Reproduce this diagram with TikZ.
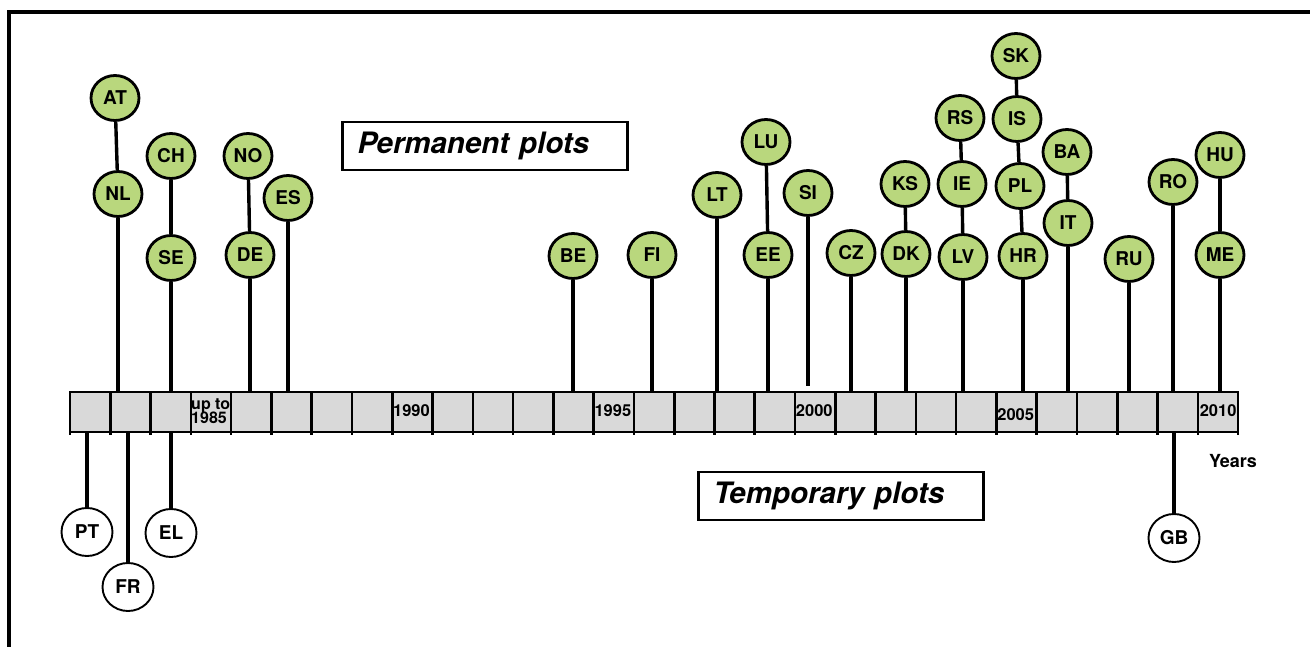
\documentclass[tikz,border=0pt]{standalone}
\usepackage{fontspec}
\setmainfont{TeX Gyre Heros}
\usetikzlibrary{shapes.geometric}
\definecolor{pgreen}{RGB}{185,215,125}
\definecolor{cellgray}{RGB}{217,217,217}
\tikzset{
  perm/.style={ellipse, draw, line width=2.8pt, fill=pgreen, minimum width=48pt, minimum height=45pt, inner sep=0pt, font=\fontsize{19}{20}\selectfont\bfseries},
  temp/.style={ellipse, draw, line width=1.9pt, fill=white, minimum width=51pt, minimum height=48pt, inner sep=0pt, font=\fontsize{19}{20}\selectfont\bfseries},
  stem/.style={line width=3.4pt},
  cell/.style={draw, line width=2.6pt, fill=cellgray, minimum width=40.28pt, minimum height=40pt, inner sep=0pt},
  yearlab/.style={anchor=west, inner sep=0pt, font=\fontsize{16.5}{18}\selectfont\bfseries, align=left},
  titlebox/.style={draw, line width=2.4pt, minimum height=48pt, inner xsep=15pt, text width=255pt, align=left, font=\fontsize{29.5}{31}\selectfont\bfseries\itshape},
}
\begin{document}
\begin{tikzpicture}[x=1pt,y=-1pt]
\useasboundingbox (0,0) rectangle (1310,647);
% frame
\draw[line width=3.5pt] (9,647) -- (9,12) -- (1310,12);
% timeline bar
\foreach \i in {0,...,28} {
  \node[cell] (c\i) at ({70+\i*40.28+20.14},412) {};
}
\foreach \i in {0,...,29} {
  \draw[line width=2.6pt] ({70+\i*40.28},392) -- ({70+\i*40.28},435);
}
\coordinate (bartop) at (0,392);
\coordinate (barbot) at (0,432);
% year labels
\node[yearlab, font=\fontsize{16}{17}\selectfont\bfseries] (y85) at ([xshift=1.5pt,yshift=1pt]c3.west) {up to\\[-2.5pt]1985};
\node[yearlab] (y90) at ([xshift=2pt,yshift=1pt]c8.west) {1990};
\node[yearlab] (y95) at ([xshift=2pt,yshift=1pt]c13.west) {1995};
\node[yearlab] (y00) at ([xshift=2pt,yshift=1.5pt]c18.west) {2000};
\node[yearlab] (y05) at ([xshift=2pt,yshift=-2.5pt]c23.west) {2005};
\node[yearlab] (y10) at ([xshift=3pt,yshift=1.5pt]c28.west) {2010};
\node[font=\fontsize{18}{19}\selectfont\bfseries, inner sep=0pt] (years) at (1233,461) {Years};
% title boxes
\node[titlebox] (pbox) at (485,146) {Permanent plots};
\node[titlebox] (tbox) at (841,496) {Temporary plots};
% permanent plots
\node[perm] (AT) at (115,98) {AT};
\node[perm] (NL) at (118,194) {NL};
\node[perm] (CH) at (171,156) {CH};
\node[perm] (SE) at (171,258) {SE};
\node[perm] (NO) at (248,156) {NO};
\node[perm] (DE) at (250,255) {DE};
\node[perm] (ES) at (288,198) {ES};
\node[perm] (BE) at (573,256) {BE};
\node[perm] (FI) at (652,255) {FI};
\node[perm] (LT) at (717,195) {LT};
\node[perm] (LU) at (766,142) {LU};
\node[perm] (EE) at (768,255) {EE};
\node[perm] (SI) at (808,193) {SI};
\node[perm] (CZ) at (851,253) {CZ};
\node[perm] (KS) at (905,184) {KS};
\node[perm] (DK) at (906,254) {DK};
\node[perm] (RS) at (960,118) {RS};
\node[perm] (IE) at (962,184) {IE};
\node[perm] (LV) at (963,257) {LV};
\node[perm] (SK) at (1016,56) {SK};
\node[perm] (IS) at (1017,119) {IS};
\node[perm] (PL) at (1020,186) {PL};
\node[perm] (HR) at (1023,256) {HR};
\node[perm] (BA) at (1067,152) {BA};
\node[perm] (IT) at (1068,223) {IT};
\node[perm] (RU) at (1129,259) {RU};
\node[perm] (RO) at (1173,182) {RO};
\node[perm] (HU) at (1220,155) {HU};
\node[perm] (ME) at (1220,255) {ME};
% temporary plots
\node[temp] (PT) at (87,532) {PT};
\node[temp] (FR) at (128,587) {FR};
\node[temp] (EL) at (171,533) {EL};
\node[temp] (GB) at (1174,538) {GB};
% links between stacked circles
\foreach \a/\b in {AT/NL, CH/SE, NO/DE, LU/EE, KS/DK, RS/IE, IE/LV, SK/IS, IS/PL, PL/HR, BA/IT, HU/ME} {
  \draw[stem] (\a) -- (\b);
}
% stems to the bar
\foreach \n in {NL, SE, DE, ES, BE, FI, LT, EE, CZ, DK, LV, HR, IT, RU, RO, ME} {
  \draw[stem] (\n) -- (\n |- bartop);
}
\coordinate (sibot) at (810,386);
\draw[stem] (SI) -- (SI |- sibot);
\foreach \n in {PT, FR, EL, GB} {
  \draw[stem] (\n) -- (\n |- barbot);
}
\end{tikzpicture}
\end{document}
